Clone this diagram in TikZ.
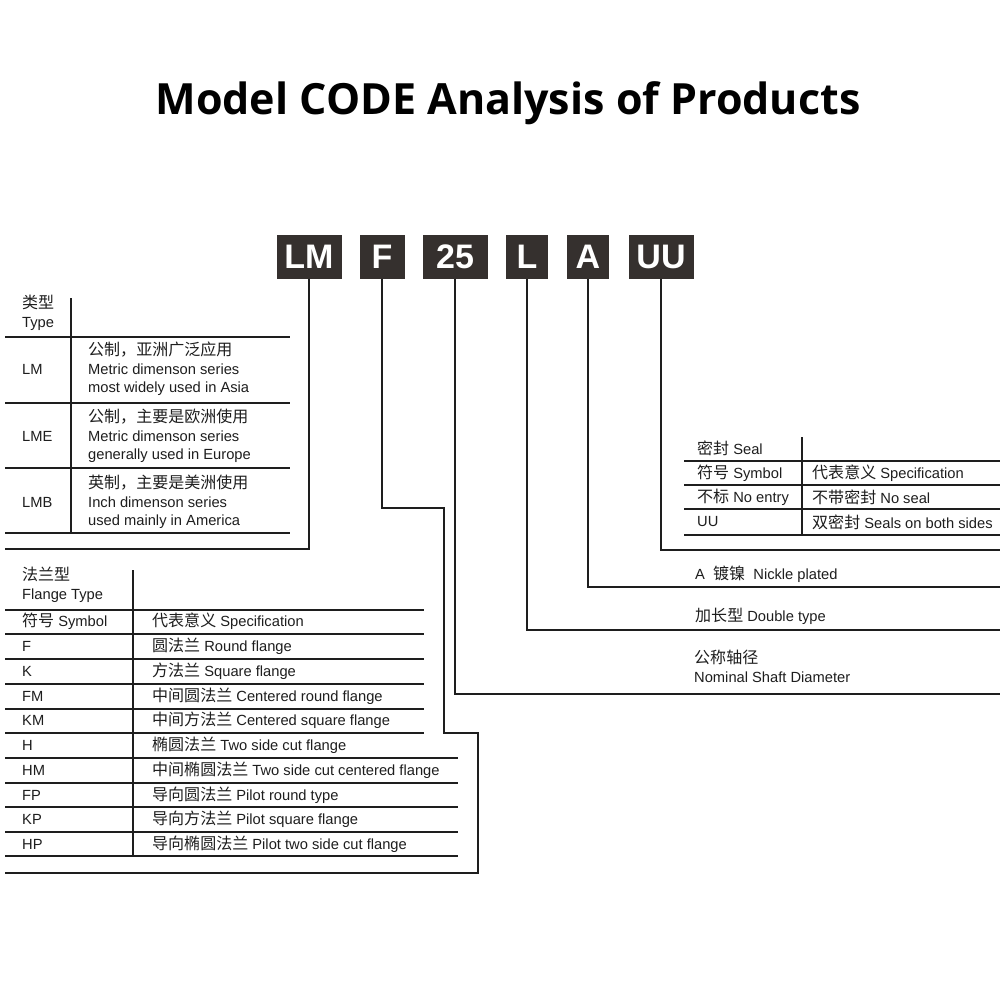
\documentclass[tikz,border=0pt]{standalone}
\usepackage{fontspec}
\setmainfont{Liberation Sans}
\newfontfamily\cjk[Scale=1.09]{Noto Sans CJK SC}
\newfontfamily\titlefont{Open Sans}
\newcommand\zh[1]{{\cjk #1}}
\definecolor{ink}{HTML}{1E1E1E}
\definecolor{boxgray}{HTML}{35302E}
\begin{document}
\begin{tikzpicture}[x=1pt,y=-1pt,
  codebox/.style={fill=boxgray, text=white, font=\fontsize{34}{36}\selectfont\bfseries, minimum height=43pt, inner sep=0pt},
  txt/.style={anchor=west, inner sep=0pt, align=left, font=\fontsize{14.7}{18.7}\selectfont, text=ink},
  rule/.style={line width=1.8pt, draw=ink},
  conn/.style={line width=1.8pt, draw=ink},
]
\useasboundingbox[fill=white] (0,0) rectangle (1000,1000);

% title
\node[font=\titlefont\bfseries\fontsize{43}{46}\selectfont, text=black] (title) at (508,103) {Model CODE Analysis of Products};

% code boxes
\node[codebox, minimum width=65pt] (lm) at (309,257) {LM};
\node[codebox, minimum width=45pt] (f)  at (382,257) {F};
\node[codebox, minimum width=65pt] (d)  at (455,257) {25};
\node[codebox, minimum width=42pt] (l)  at (527,257) {L};
\node[codebox, minimum width=42pt] (a)  at (588,257) {A};
\node[codebox, minimum width=65pt] (uu) at (661,257) {UU};

% connector end points
\coordinate (lmEnd) at (5,549);
\coordinate (f1) at (444,508);
\coordinate (f2) at (478,733);
\coordinate (fEnd) at (5,873);
\coordinate (dEnd) at (1000,694);
\coordinate (lEnd) at (1000,630);
\coordinate (aEnd) at (1000,587);
\coordinate (uuEnd) at (1000,550);

\draw[conn] (lm.south) |- (lmEnd);
\draw[conn] (f.south) |- (f1) |- (f2) |- (fEnd);
\draw[conn] (d.south) |- (dEnd);
\draw[conn] (l.south) |- (lEnd);
\draw[conn] (a.south) |- (aEnd);
\draw[conn] (uu.south) |- (uuEnd);

% ---------- Type table ----------
\foreach \yy in {337,403,468,533} \draw[rule] (5,\yy) -- (290,\yy);
\draw[rule] (71,298) -- (71,533);
\node[txt] (typeh) at (22,312.5) {\zh{类型}\\Type};
\node[txt] (t1) at (22,369) {LM};
\node[txt] (t1s) at (88,369) {\zh{公制，亚洲广泛应用}\\Metric dimenson series\\most widely used in Asia};
\node[txt] (t2) at (22,436) {LME};
\node[txt] (t2s) at (88,436) {\zh{公制，主要是欧洲使用}\\Metric dimenson series\\generally used in Europe};
\node[txt] (t3) at (22,502) {LMB};
\node[txt] (t3s) at (88,502) {\zh{英制，主要是美洲使用}\\Inch dimenson series\\used mainly in America};

% ---------- Flange table ----------
\foreach \yy in {610,634,659,684,709,733} \draw[rule] (5,\yy) -- (424,\yy);
\foreach \yy in {758,783,807,832,856} \draw[rule] (5,\yy) -- (458,\yy);
\draw[rule] (133,570) -- (133,856);
\node[txt] (fh) at (22,584.5) {\zh{法兰型}\\Flange Type};
\node[txt] (fr0) at (22,621) {\zh{符号} Symbol};
\node[txt] (fs0) at (152,621) {\zh{代表意义} Specification};
\node[txt] (fr1) at (22,646) {F};
\node[txt] (fs1) at (152,646) {\zh{圆法兰} Round flange};
\node[txt] (fr2) at (22,671) {K};
\node[txt] (fs2) at (152,671) {\zh{方法兰} Square flange};
\node[txt] (fr3) at (22,696) {FM};
\node[txt] (fs3) at (152,696) {\zh{中间圆法兰} Centered round flange};
\node[txt] (fr4) at (22,720) {KM};
\node[txt] (fs4) at (152,720) {\zh{中间方法兰} Centered square flange};
\node[txt] (fr5) at (22,745) {H};
\node[txt] (fs5) at (152,745) {\zh{椭圆法兰} Two side cut flange};
\node[txt] (fr6) at (22,770) {HM};
\node[txt] (fs6) at (152,770) {\zh{中间椭圆法兰} Two side cut centered flange};
\node[txt] (fr7) at (22,795) {FP};
\node[txt] (fs7) at (152,795) {\zh{导向圆法兰} Pilot round type};
\node[txt] (fr8) at (22,819) {KP};
\node[txt] (fs8) at (152,819) {\zh{导向方法兰} Pilot square flange};
\node[txt] (fr9) at (22,844) {HP};
\node[txt] (fs9) at (152,844) {\zh{导向椭圆法兰} Pilot two side cut flange};

% ---------- Seal table ----------
\foreach \yy in {461,485,509,535} \draw[rule] (684,\yy) -- (1000,\yy);
\draw[rule] (802,437) -- (802,535);
\node[txt] (sh) at (697,448) {\zh{密封} Seal};
\node[txt] (sr0) at (697,473) {\zh{符号} Symbol};
\node[txt] (ss0) at (812,473) {\zh{代表意义} Specification};
\node[txt] (sr1) at (697,497) {\zh{不标} No entry};
\node[txt] (ss1) at (812,497) {\zh{不带密封} No seal};
\node[txt] (sr2) at (697,522) {UU};
\node[txt] (ss2) at (812,522) {\zh{双密封} Seals on both sides};

% ---------- single labels ----------
\node[txt] (na) at (695,574) {A\ \ \zh{镀镍}\ \ Nickle plated};
\node[txt] (nl) at (695,616) {\zh{加长型} Double type};
\node[txt] (nd) at (694,666.5) {\zh{公称轴径}\\Nominal Shaft Diameter};
\end{tikzpicture}
\end{document}
